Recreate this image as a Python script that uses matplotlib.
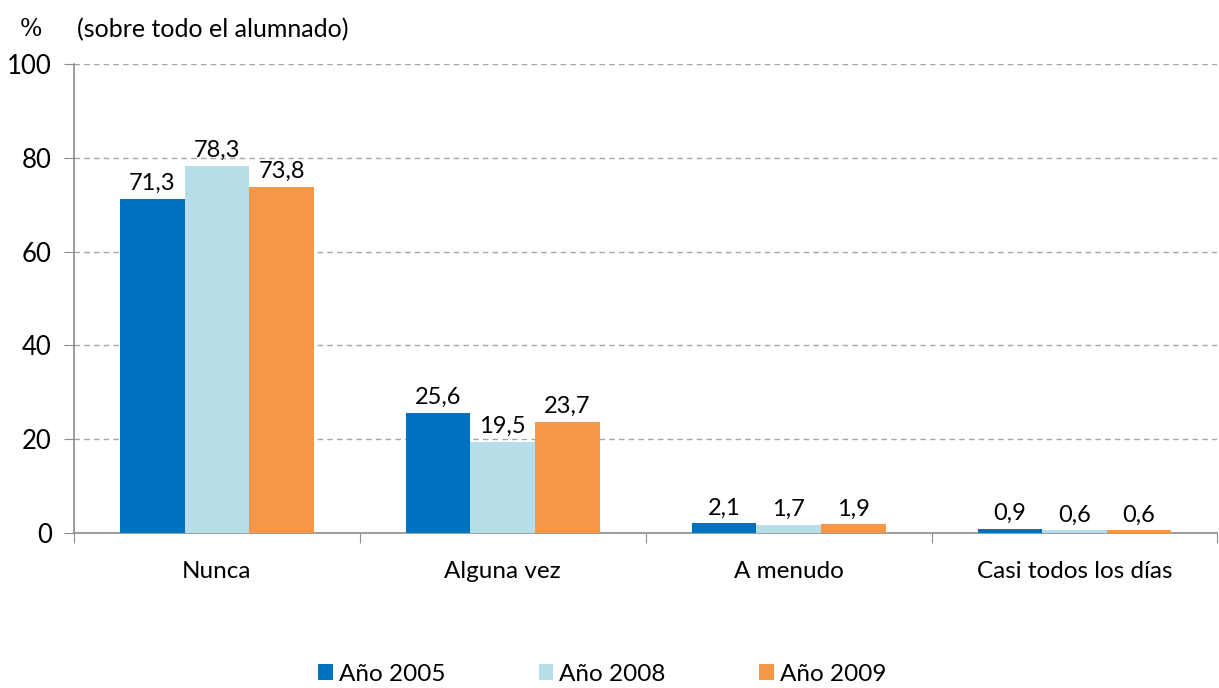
import matplotlib.pyplot as plt
import numpy as np

plt.rcParams['font.family'] = ['Lato', 'DejaVu Sans']

# Frecuencia (% sobre todo el alumnado)
categorias = ["Nunca", "Alguna vez", "A menudo", "Casi todos los días"]
anios = ["Año 2005", "Año 2008", "Año 2009"]
v2005 = [71.3, 25.6, 2.1, 0.9]
v2008 = [78.3, 19.5, 1.7, 0.6]
v2009 = [73.8, 23.7, 1.9, 0.6]
colores = ["#0070C0", "#B7DEE8", "#F79646"]

fig = plt.figure(figsize=(12.19, 6.88), dpi=100)
ax = fig.add_axes([0.0607, 0.2253, 0.938, 0.6817])

x = np.arange(len(categorias))
w = 0.226
for i, (serie, col, lab) in enumerate(zip([v2005, v2008, v2009], colores, anios)):
    pos = x + (i - 1) * w
    ax.bar(pos, serie, width=w, color=col, label=lab, zorder=3)
    for xp, v in zip(pos, serie):
        ax.text(xp, v + 1.0, f"{v:.1f}".replace(".", ","), ha="center", va="bottom",
                fontsize=17, color="black")

ax.set_xlim(-0.5, len(categorias) - 0.5)
ax.set_ylim(0, 100)
ax.set_yticks(range(0, 101, 20))
ax.tick_params(axis="y", labelsize=18.5, length=7, color="#8c8c8c", pad=9)
ax.yaxis.grid(True, linestyle=(0, (4, 3)), color="#a6a6a6", linewidth=1, zorder=0)

# separadores de categoría en el eje x
ax.set_xticks(np.arange(-0.5, len(categorias), 1))
ax.set_xticklabels([])
ax.set_xticks(x, minor=True)
ax.set_xticklabels(categorias, minor=True)
ax.tick_params(axis="x", which="major", length=7, color="#8c8c8c", direction="out")
ax.tick_params(axis="x", which="minor", length=0, labelsize=17.5, pad=20)

for s in ["top", "right"]:
    ax.spines[s].set_visible(False)
for s in ["left", "bottom"]:
    ax.spines[s].set_color("#8c8c8c")
    ax.spines[s].set_linewidth(1.2)

fig.text(0.016, 0.957, "%", fontsize=17, family="DejaVu Serif", va="center")
fig.text(0.063, 0.957, "(sobre todo el alumnado)", fontsize=18, va="center")

fig.legend(loc="center", bbox_to_anchor=(0.494, 0.02), ncol=3, frameon=False,
           fontsize=17.5, handlelength=0.6, handleheight=0.6, handletextpad=0.25,
           columnspacing=3.85)

fig.savefig("out.png", dpi=100)
